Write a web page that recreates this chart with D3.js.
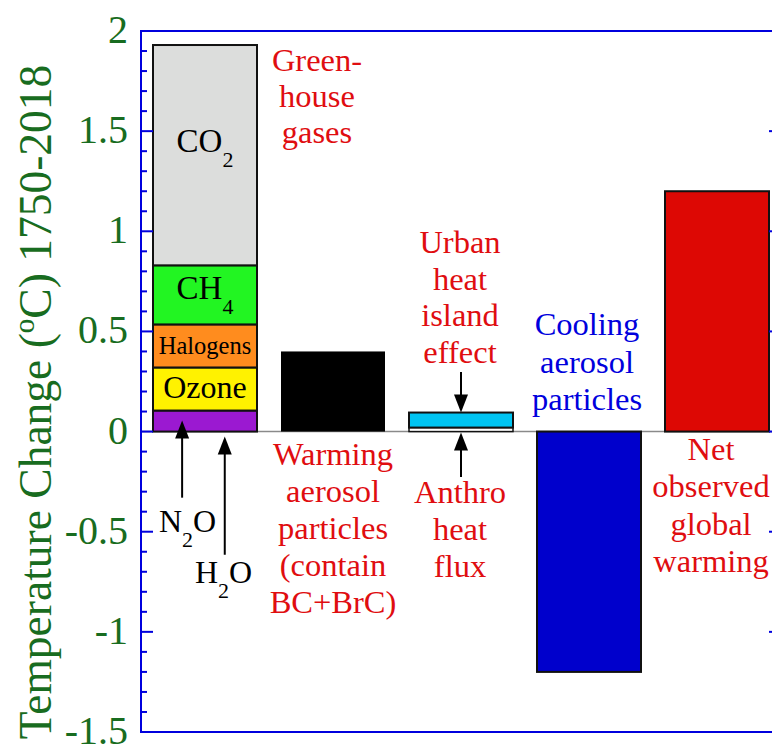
<!DOCTYPE html>
<html>
<head>
<meta charset="utf-8">
<script src="https://cdn.jsdelivr.net/npm/d3@7/dist/d3.min.js"></script>
<style>
  html, body { margin: 0; padding: 0; background: #fff; }
  svg { display: block; }
</style>
</head>
<body>
<svg id="chart" width="772" height="747"></svg>
<script>
// ---------- data ----------
const categories = ["Greenhouse gases", "Warming aerosol particles", "Urban heat / Anthro heat", "Cooling aerosol particles", "Net observed global warming"];
const ghgComponents = ["N2O+H2O", "Ozone", "Halogens", "CH4", "CO2"];
const ghgValues = [0.105, 0.215, 0.215, 0.295, 1.10];
const ghgColors = ["#9b19d1", "#fff200", "#ff8c1e", "#22f522", "#dcdddc"];
const warmingAerosol = 0.40;
const anthroHeatFlux = 0.02;
const urbanHeatIsland = 0.075;
const coolingAerosol = -1.20;
const netWarming = 1.20;
const yMajorTicks = [-1.5, -1, -0.5, 0, 0.5, 1, 1.5, 2];
const yTickLabels = ["-1.5", "-1", "-0.5", "0", "0.5", "1", "1.5", "2"];

// ---------- layout ----------
const FONT = "'Liberation Serif', 'Times New Roman', Times, serif";
const svg = d3.select("#chart").attr("font-family", FONT);
const green = "#186c20", red = "#e00d10", blue = "#0000dd", axisBlue = "#0000dd";

const x = d3.scaleBand().domain(categories).range([141, 781])
  .paddingInner(0.1875).paddingOuter(0.09375);
const y = d3.scaleLinear().domain([-1.5, 2]).range([732, 31]);
const bw = x.bandwidth();

// zero line
svg.append("line")
  .attr("x1", x.range()[0]).attr("x2", x.range()[1])
  .attr("y1", y(0)).attr("y2", y(0))
  .attr("stroke", "#8a8a8a").attr("stroke-width", 1.5);

// ---------- stacked greenhouse bar ----------
let acc = 0;
const stacks = ghgValues.map((v, i) => { const s = {y0: acc, y1: acc + v, c: ghgColors[i], name: ghgComponents[i]}; acc += v; return s; });
svg.append("g").selectAll("rect").data(stacks).join("rect")
  .attr("x", x(categories[0])).attr("width", bw)
  .attr("y", d => y(d.y1)).attr("height", d => y(d.y0) - y(d.y1))
  .attr("fill", d => d.c).attr("stroke", "#111").attr("stroke-width", 2);

// warming aerosol
svg.append("rect")
  .attr("x", x(categories[1])).attr("width", bw)
  .attr("y", y(warmingAerosol)).attr("height", y(0) - y(warmingAerosol))
  .attr("fill", "#000");

// anthro heat flux + urban heat island
svg.append("rect")
  .attr("x", x(categories[2])).attr("width", bw)
  .attr("y", y(anthroHeatFlux)).attr("height", y(0) - y(anthroHeatFlux))
  .attr("fill", "#fff").attr("stroke", "#111").attr("stroke-width", 1.5);
svg.append("rect")
  .attr("x", x(categories[2])).attr("width", bw)
  .attr("y", y(anthroHeatFlux + urbanHeatIsland)).attr("height", y(anthroHeatFlux) - y(anthroHeatFlux + urbanHeatIsland))
  .attr("fill", "#00c4f2").attr("stroke", "#111").attr("stroke-width", 2);

// cooling aerosol
svg.append("rect")
  .attr("x", x(categories[3])).attr("width", bw)
  .attr("y", y(0)).attr("height", y(coolingAerosol) - y(0))
  .attr("fill", "#0000cc").attr("stroke", "#111").attr("stroke-width", 2);

// net warming
svg.append("rect")
  .attr("x", x(categories[4])).attr("width", bw)
  .attr("y", y(netWarming)).attr("height", y(0) - y(netWarming))
  .attr("fill", "#dd0804").attr("stroke", "#111").attr("stroke-width", 2);

// ---------- frame & ticks ----------
const x0 = x.range()[0], x1 = x.range()[1];
const frame = svg.append("g").attr("stroke", axisBlue).attr("stroke-width", 2).attr("fill", "none");
frame.append("rect").attr("x", x0).attr("y", y(2)).attr("width", x1 - x0).attr("height", y(-1.5) - y(2));
const minorTicks = d3.range(-15, 21).map(d => d / 10).filter(v => !yMajorTicks.some(m => Math.abs(m - v) < 1e-6));
frame.selectAll(".maj").data(yMajorTicks).join("line")
  .attr("x1", x0).attr("x2", x0 + 12).attr("y1", d => y(d)).attr("y2", d => y(d));
frame.selectAll(".min").data(minorTicks).join("line")
  .attr("x1", x0).attr("x2", x0 + 6).attr("y1", d => y(d)).attr("y2", d => y(d));
frame.selectAll(".majr").data(yMajorTicks).join("line")
  .attr("x1", x1).attr("x2", x1 - 12).attr("y1", d => y(d)).attr("y2", d => y(d));
frame.selectAll(".minr").data(minorTicks).join("line")
  .attr("x1", x1).attr("x2", x1 - 6).attr("y1", d => y(d)).attr("y2", d => y(d));

// tick labels
svg.append("g").selectAll("text").data(yMajorTicks).join("text")
  .attr("x", 128).attr("y", d => y(d)).attr("dy", "0.3em")
  .attr("text-anchor", "end").attr("fill", green).attr("font-size", 40)
  .text((d, i) => yTickLabels[i]);

// y axis title
const yt = svg.append("text")
  .attr("transform", `translate(51,402) rotate(-90)`)
  .attr("text-anchor", "middle").attr("fill", green).attr("font-size", 45.5);
yt.append("tspan").text("Temperature Change (");
yt.append("tspan").attr("font-size", 29).attr("dy", -17).text("o");
yt.append("tspan").attr("dy", 17).text("C) 1750-2018");

// ---------- labels inside stacked bar ----------
const cx0 = x(categories[0]) + bw / 2;
function chem(txt, sub, yv, size) {
  const t = svg.append("text").attr("x", cx0).attr("y", y(yv))
    .attr("text-anchor", "middle").attr("font-size", size).attr("fill", "#000");
  t.append("tspan").text(txt);
  if (sub) t.append("tspan").attr("font-size", 22).attr("dy", 15).text(sub);
  return t;
}
chem("CO", "2", 1.395, 33);
chem("CH", "4", 0.66, 33);
chem("Halogens", null, 0.385, 24.5);
chem("Ozone", null, 0.17, 32);

// N2O and H2O annotations
function arrowUp(ax, yTip, yBase) {
  svg.append("line").attr("x1", ax).attr("x2", ax).attr("y1", yTip + 16).attr("y2", yBase)
    .attr("stroke", "#000").attr("stroke-width", 2);
  svg.append("path").attr("d", `M${ax},${yTip} L${ax - 7},${yTip + 18} L${ax + 7},${yTip + 18} Z`).attr("fill", "#000");
}
function arrowDown(ax, yTip, yBase) {
  svg.append("line").attr("x1", ax).attr("x2", ax).attr("y1", yBase).attr("y2", yTip - 16)
    .attr("stroke", "#000").attr("stroke-width", 2);
  svg.append("path").attr("d", `M${ax},${yTip} L${ax - 7},${yTip - 18} L${ax + 7},${yTip - 18} Z`).attr("fill", "#000");
}
const n2oX = x(categories[0]) + bw * 0.28, h2oX = x(categories[0]) + bw * 0.69;
arrowUp(n2oX, y(0.055), y(-0.33));
arrowUp(h2oX, y(-0.025), y(-0.615));
function sublabel(px, py, a, sub, b) {
  const t = svg.append("text").attr("x", px).attr("y", py).attr("font-size", 32).attr("fill", "#000");
  t.append("tspan").text(a);
  t.append("tspan").attr("font-size", 22).attr("dy", 15).text(sub);
  t.append("tspan").attr("dy", -15).text(b);
}
sublabel(159, y(-0.5), "N", "2", "O");
sublabel(195, y(-0.755), "H", "2", "O");

// ---------- red/blue multi-line annotations ----------
function multiline(lines, cx, firstBaseline, color, lh) {
  const t = svg.append("text").attr("text-anchor", "middle").attr("font-size", 32.5).attr("fill", color);
  lines.forEach((l, i) => t.append("tspan").attr("x", cx).attr("y", firstBaseline + i * lh).text(l));
}
multiline(["Green-", "house", "gases"], 317, 71, red, 36);
multiline(["Warming", "aerosol", "particles", "(contain", "BC+BrC)"], x(categories[1]) + bw / 2, 465, red, 37);
multiline(["Urban", "heat", "island", "effect"], x(categories[2]) + bw / 2 - 1, 253, red, 36.7);
multiline(["Anthro", "heat", "flux"], x(categories[2]) + bw / 2 - 1, 503, red, 37);
multiline(["Cooling", "aerosol", "particles"], x(categories[3]) + bw / 2 - 2, 335, blue, 37.5);
multiline(["Net", "observed", "global", "warming"], x(categories[4]) + bw / 2 - 6, 460, red, 37.3);

const c2 = x(categories[2]) + bw / 2;
arrowDown(c2, y(anthroHeatFlux + urbanHeatIsland), 372);
arrowUp(c2, y(0) + 1, 477);
</script>
</body>
</html>
